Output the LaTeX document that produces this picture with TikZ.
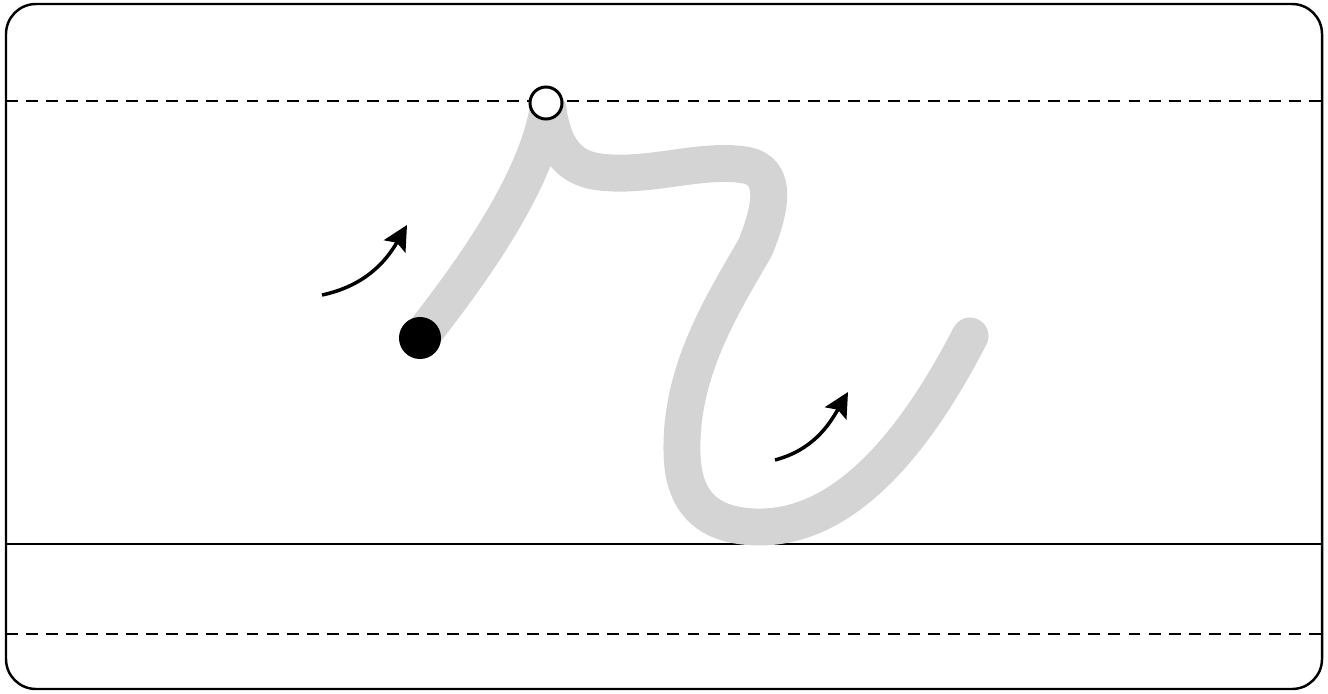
\documentclass[tikz,border=0pt]{standalone}
\usepackage{tikz}
\usetikzlibrary{positioning, arrows.meta}

\begin{document}
\begin{tikzpicture}[
    x=0.01cm, y=0.01cm,
    >=Stealth,
    frame/.style={draw, line width=0.7pt, rounded corners=0.3cm},
    guide/.style={draw, line width=0.6pt, dash pattern=on 3.4pt off 2.3pt},
    baseline/.style={draw, line width=0.6pt},
    trace/.style={draw, color=black!17, line width=10.5pt, line cap=round, line join=round},
    hint/.style={draw, -{Stealth[length=7pt, width=7pt, inset=1.2pt]}, line width=1pt},
    startdot/.style={circle, fill=black, inner sep=0pt, minimum size=0.42cm},
    turndot/.style={circle, draw, fill=white, line width=0.85pt, inner sep=0pt, minimum size=0.32cm},
]
\useasboundingbox (0,0) rectangle (1328,693);

% --- Frame and ruling ---
\draw[frame] (6,4) rectangle (1322,689);
\draw[guide] (6,592) -- (1322,592);
\draw[baseline] (6,149) -- (1322,149);
\draw[guide] (6,59) -- (1322,59);

% --- Letter trace ---
\draw[trace] (420,355) .. controls (475,425) and (535,510) .. (548,583);
\draw[trace] (548,583) .. controls (553,550) and (565,525) .. (600,521)
  .. controls (650,515) and (700,535) .. (745,528)
  .. controls (780,522) and (770,482) .. (755,445)
  .. controls (720,385) and (680,320) .. (682,240)
  .. controls (683,180) and (720,166) .. (760,166)
  .. controls (850,166) and (920,260) .. (970,357);

% --- Start and turn points ---
\node[startdot] (start) at (420,355) {};
\node[turndot] (turn) at (546,590) {};

% --- Direction hints ---
\coordinate (hintA0) at (322,398);
\coordinate (hintA1) at (407,468);
\coordinate (hintB0) at (775,233);
\coordinate (hintB1) at (848,301);
\draw[hint] (hintA0) to[out=12, in=240] (hintA1);
\draw[hint] (hintB0) to[out=15, in=240] (hintB1);
\end{tikzpicture}
\end{document}
